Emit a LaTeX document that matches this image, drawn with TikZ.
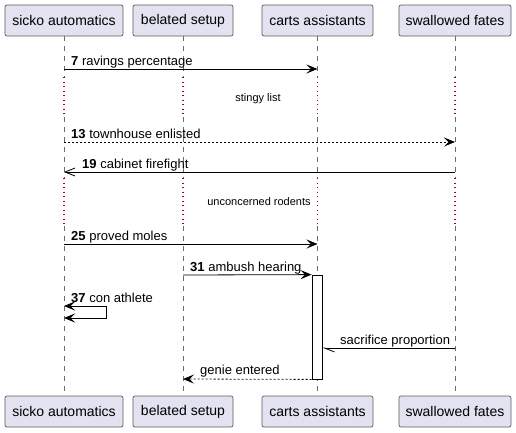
\documentclass[tikz,border=0pt]{standalone}
\usepackage{fontspec}
\setmainfont{Liberation Sans}
\usetikzlibrary{arrows.meta}
\definecolor{pbox}{HTML}{E2E2F0}
\definecolor{pborder}{HTML}{5A5A5A}
\definecolor{lifeg}{HTML}{6A6A6A}
\definecolor{delayred}{HTML}{A80036}
\tikzset{
  filledtip/.tip={Stealth[length=11pt,width=9pt,inset=4.5pt]},
  opentip/.tip={Straight Barb[length=10pt,width=8pt,line width=0.8pt]},
  halftip/.tip={Straight Barb[length=10pt,width=8pt,left,line width=0.8pt]},
  part/.style={draw=pborder,fill=pbox,rounded corners=2pt,line width=0.7pt,inner sep=0pt,
    minimum height=31pt,font=\fontsize{14}{16}\selectfont},
  life/.style={draw=lifeg,line width=0.6pt,dash pattern=on 5pt off 5pt},
  delay/.style={draw=delayred,line width=1.1pt,dash pattern=on 1pt off 3.5pt},
  msg/.style={draw=black,line width=0.8pt,-filledtip},
  dmsg/.style={msg,dash pattern=on 2pt off 2pt},
  lbl/.style={anchor=base west,inner sep=0pt,font=\fontsize{13}{15}\selectfont},
  note/.style={inner sep=0pt,font=\fontsize{11}{13}\selectfont},
  act/.style={draw=black,fill=white,line width=0.8pt}
}
\begin{document}
\begin{tikzpicture}[x=1pt,y=-1pt]
\useasboundingbox (0,0) rectangle (516,432);
% lifelines
\foreach \xx in {64,183,317.5,455}{
  \draw[life] (\xx,36) -- (\xx,77);
  \draw[delay] (\xx,77) -- (\xx,117);
  \draw[life] (\xx,117) -- (\xx,178);
  \draw[delay] (\xx,178) -- (\xx,226);
  \draw[life] (\xx,226) -- (\xx,396);
}
% participants
\node[part,minimum width=118pt] (a) at (64,20.5) {sicko automatics};
\node[part,minimum width=100pt] (b) at (183,20.5) {belated setup};
\node[part,minimum width=111pt] (c) at (317.5,20.5) {carts assistants};
\node[part,minimum width=112pt] (d) at (455,20.5) {swallowed fates};
\node[part,minimum width=118pt] (a2) at (64,411.5) {sicko automatics};
\node[part,minimum width=100pt] (b2) at (183,411.5) {belated setup};
\node[part,minimum width=111pt] (c2) at (317.5,411.5) {carts assistants};
\node[part,minimum width=112pt] (d2) at (455,411.5) {swallowed fates};
% activation
\node[act,minimum width=10pt,minimum height=104pt,inner sep=0pt] (act) at (317,327) {};
% messages
\draw[msg] (a.south |- 0,69) -- (c.south |- 0,69);
\node[lbl] (m1) at (71,65) {\textbf{7} ravings percentage};
\node[note] (n1) at (258,99) {stingy list};
\draw[dmsg] (a.south |- 0,142) -- (d.south |- 0,142);
\node[lbl] (m2) at (71,138) {\textbf{13} townhouse enlisted};
\draw[msg,-opentip] (d.south |- 0,172) -- (a.south |- 0,172);
\node[lbl] (m3) at (82,168) {\textbf{19} cabinet firefight};
\node[note] (n2) at (259,202) {unconcerned rodents};
\draw[msg] (a.south |- 0,244) -- (c.south |- 0,244);
\node[lbl] (m4) at (71,240) {\textbf{25} proved moles};
\draw[msg] (b.south |- 0,275) -- (act.north west);
\node[lbl] (m5) at (190,271) {\textbf{31} ambush hearing};
\coordinate (s1) at (106,306);
\coordinate (s2) at (106,318);
\draw[msg,filledtip-filledtip] (a.south |- 0,306) -- (s1) -- (s2) -- (a.south |- 0,318);
\node[lbl] (m6) at (71,302) {\textbf{37} con athlete};
\draw[msg,-halftip] (d.south |- 0,348) -- (act.east |- 0,348);
\node[lbl] (m7) at (340,344) {sacrifice proportion};
\draw[dmsg] (act.south west) -- (b.south |- 0,379);
\node[lbl] (m8) at (200,374) {genie entered};
\end{tikzpicture}
\end{document}
